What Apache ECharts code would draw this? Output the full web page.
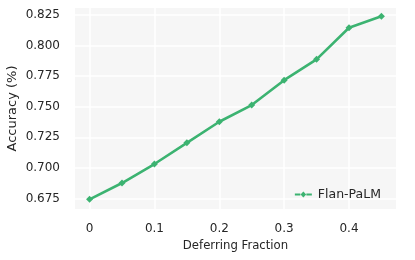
<!DOCTYPE html>
<html>
<head>
<meta charset="utf-8">
<script src="https://cdn.jsdelivr.net/npm/echarts@6/dist/echarts.min.js"></script>
<style>html,body{margin:0;padding:0;background:#fff;}#c{width:415px;height:260px;}</style>
</head>
<body>
<div id="c"></div>
<script>
var deferringFraction = [0, 0.05, 0.1, 0.15, 0.2, 0.25, 0.3, 0.35, 0.4, 0.45];
var flanPalmAccuracy = [0.6744, 0.6877, 0.7032, 0.7205, 0.7377, 0.7513, 0.7716, 0.7886, 0.8144, 0.8238];
var xTicks = [0, 0.1, 0.2, 0.3, 0.4];
var yTicks = [0.675, 0.700, 0.725, 0.750, 0.775, 0.800, 0.825];
var seriesName = 'Flan-PaLM';

var chart = echarts.init(document.getElementById('c'), null, {renderer: 'canvas'});
var font = 'DejaVu Sans';
var textColor = '#262626';
var green = '#3cb371';
chart.setOption({
  animation: false,
  backgroundColor: '#ffffff',
  grid: {left: 75, right: 19, top: 8, bottom: 51, show: true, backgroundColor: '#f6f6f6', borderWidth: 0,
    containLabel: false, outerBoundsMode: 'none'},
  legend: {
    data: [seriesName], right: 29, top: 183, orient: 'horizontal',
    itemWidth: 17, itemHeight: 6, itemGap: 5,
    icon: 'path://M0,2 L5.5,2 L5.5,4 L0,4 Z M11.5,2 L17,2 L17,4 L11.5,4 Z M8.5,0 L11.3,3 L8.5,6 L5.7,3 Z',
    textStyle: {fontFamily: font, fontSize: 12.5, color: textColor, padding: [0,0,0,1]}
  },
  xAxis: {
    type: 'value', min: -0.0225, max: 0.4725,
    name: 'Deferring Fraction', nameLocation: 'middle', nameGap: 22,
    nameTextStyle: {fontFamily: font, fontSize: 11.7, color: textColor},
    axisLine: {show: false}, axisTick: {show: false, customValues: xTicks},
    axisLabel: {customValues: xTicks, fontFamily: font, fontSize: 12, color: textColor, margin: 14,
      formatter: function (v) { return v === 0 ? '0' : String(Math.round(v * 10) / 10); }},
    splitLine: {show: true, customValues: xTicks, lineStyle: {color: '#ffffff', width: 1.6}}
  },
  yAxis: {
    type: 'value', min: 0.6665, max: 0.8305,
    name: 'Accuracy (%)', nameLocation: 'middle', nameGap: 56, nameRotate: 90, nameMoveOverlap: false,
    nameTextStyle: {fontFamily: font, fontSize: 13, color: textColor},
    axisLine: {show: false}, axisTick: {show: false, customValues: yTicks},
    axisLabel: {customValues: yTicks, fontFamily: font, fontSize: 12, color: textColor, margin: 15,
      formatter: function (v) { return v.toFixed(3); }},
    splitLine: {show: true, customValues: yTicks, lineStyle: {color: '#ffffff', width: 1.6}}
  },
  series: [{
    name: seriesName, type: 'line',
    data: deferringFraction.map(function (x, i) { return [x, flanPalmAccuracy[i]]; }),
    lineStyle: {color: green, width: 2.6},
    itemStyle: {color: green},
    symbol: 'diamond', symbolSize: 7, showSymbol: true
  }]
});
</script>
</body>
</html>
